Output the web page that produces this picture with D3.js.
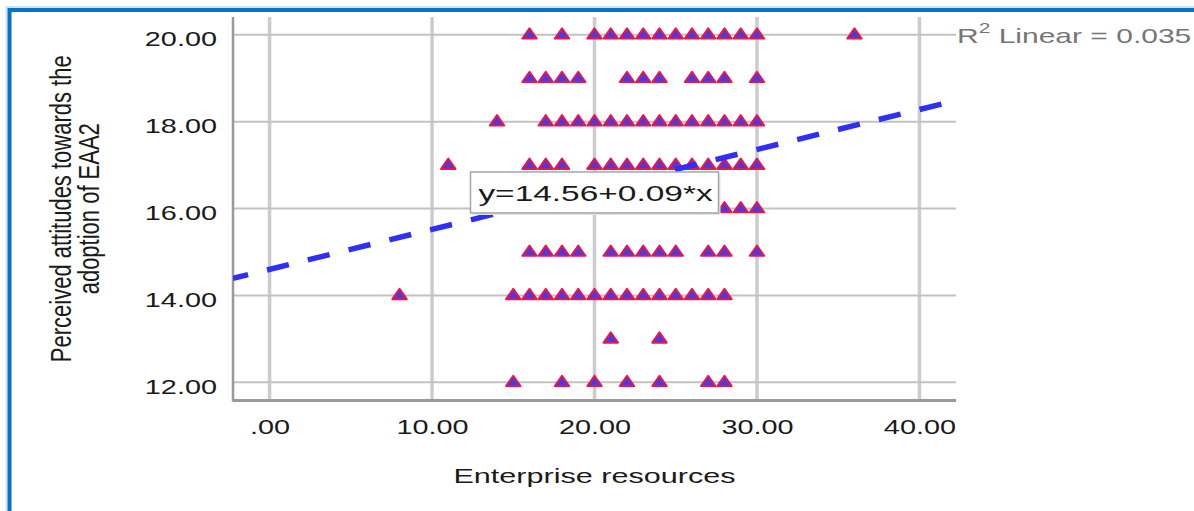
<!DOCTYPE html>
<html>
<head>
<meta charset="utf-8">
<script src="https://cdn.jsdelivr.net/npm/d3@7"></script>
<style>
  html, body { margin: 0; padding: 0; background: #ffffff; }
  svg { display: block; }
  text { font-family: "Liberation Sans", Arial, sans-serif; }
</style>
</head>
<body>
<svg id="chart" width="1194" height="511"></svg>
<script>
// ---- data ----
const yLevels = [20, 19, 18, 17, 16, 15, 14, 13, 12];
const xAtY20 = [16, 18, 20, 21, 22, 23, 24, 25, 26, 27, 28, 29, 30, 36];
const xAtY19 = [16, 17, 18, 19, 22, 23, 24, 26, 27, 28, 30];
const xAtY18 = [14, 17, 18, 19, 20, 21, 22, 23, 24, 25, 26, 27, 28, 29, 30];
const xAtY17 = [11, 16, 17, 18, 20, 21, 22, 23, 24, 25, 26, 27, 28, 29, 30];
const xAtY16 = [28, 29, 30];
const xAtY15 = [16, 17, 18, 19, 21, 22, 23, 24, 25, 27, 28, 30];
const xAtY14 = [8, 15, 16, 17, 18, 19, 20, 21, 22, 23, 24, 25, 26, 27, 28];
const xAtY13 = [21, 24];
const xAtY12 = [15, 18, 20, 22, 24, 27, 28];
const xValuesByLevel = [xAtY20, xAtY19, xAtY18, xAtY17, xAtY16, xAtY15, xAtY14, xAtY13, xAtY12];

const xTicks = [0, 10, 20, 30, 40];
const xTickLabels = [".00", "10.00", "20.00", "30.00", "40.00"];
const yTicks = [12, 14, 16, 18, 20];
const yTickLabels = ["12.00", "14.00", "16.00", "18.00", "20.00"];

const fitIntercept = 14.6;
const fitSlope = 0.092;
const equationText = "y=14.56+0.09*x";
const r2Value = "0.035";
const xTitle = "Enterprise resources";
const yTitleLines = ["Perceived attitudes towards the", "adoption of EAA2"];

// ---- layout ----
const svg = d3.select("#chart");
const plotL = 233, plotR = 956, plotT = 17, plotB = 400.5;
const x = d3.scaleLinear().domain([-2.25, 42.25]).range([plotL, plotR]);
const y = d3.scaleLinear().domain([11.58, 20.41]).range([plotB, plotT]);

const points = [];
yLevels.forEach((lv, i) => xValuesByLevel[i].forEach(v => points.push({ x: v, y: lv })));

// outer blue frame
svg.append("path").attr("d", "M6.5,520 V7 H1200").attr("fill", "none")
  .attr("stroke", "#cfe2f3").attr("stroke-width", 2);
svg.append("path").attr("d", "M9.5,520 V10 H1200").attr("fill", "none")
  .attr("stroke", "#0872c4").attr("stroke-width", 4);

// gridlines
svg.append("g").selectAll("line").data(xTicks).join("line")
  .attr("x1", d => x(d)).attr("x2", d => x(d))
  .attr("y1", plotT).attr("y2", plotB)
  .attr("stroke", "#cccccc").attr("stroke-width", 3.5);
svg.append("g").selectAll("line").data(yTicks).join("line")
  .attr("x1", plotL).attr("x2", plotR)
  .attr("y1", d => y(d)).attr("y2", d => y(d))
  .attr("stroke", "#c2c2c2").attr("stroke-width", 2);

// axis lines
svg.append("line").attr("x1", plotL).attr("x2", plotL).attr("y1", plotT).attr("y2", plotB + 1)
  .attr("stroke", "#999999").attr("stroke-width", 2.5);
svg.append("line").attr("x1", plotL).attr("x2", plotR).attr("y1", plotB).attr("y2", plotB)
  .attr("stroke", "#999999").attr("stroke-width", 3);

// axes (labels)
const xAxis = d3.axisBottom(x).tickValues(xTicks).tickSize(0)
  .tickFormat((d, i) => xTickLabels[i]);
const gx = svg.append("g").attr("transform", `translate(0,${plotB})`).call(xAxis);
gx.select(".domain").remove();
gx.selectAll("text").attr("y", 0).attr("dy", 0)
  .attr("transform", "translate(0,33) scale(1.48,1)")
  .attr("font-size", 19.5).attr("fill", "#1a1a1a")
  .attr("font-family", "'Liberation Sans', Arial, sans-serif");

const yAxis = d3.axisLeft(y).tickValues(yTicks).tickSize(0)
  .tickFormat((d, i) => yTickLabels[i]);
const gy = svg.append("g").attr("transform", `translate(${plotL},0)`).call(yAxis);
gy.select(".domain").remove();
gy.selectAll("text").attr("x", 0).attr("dy", 0).attr("text-anchor", "end")
  .attr("transform", "translate(-16,11) scale(1.48,1)")
  .attr("font-size", 19.5).attr("fill", "#1a1a1a")
  .attr("font-family", "'Liberation Sans', Arial, sans-serif");

// points
const tri = "M0,-6.5 L7.2,3.8 L-7.2,3.8 Z";
svg.append("g").selectAll("path").data(points).join("path")
  .attr("d", tri)
  .attr("transform", d => `translate(${x(d.x)},${y(d.y)})`)
  .attr("fill", "#4b3ae0").attr("stroke", "#e8164f").attr("stroke-width", 2)
  .attr("stroke-linejoin", "round");

// fit line
svg.append("clipPath").attr("id", "plotclip").append("rect")
  .attr("x", plotL).attr("y", plotT).attr("width", plotR - plotL).attr("height", plotB - plotT);
const xd = x.domain();
const fitData = [xd[0], xd[1]].map(v => ({ x: v, y: fitIntercept + fitSlope * v }));
svg.append("path").datum(fitData)
  .attr("clip-path", "url(#plotclip)")
  .attr("d", d3.line().x(d => x(d.x)).y(d => y(d.y)))
  .attr("fill", "none").attr("stroke", "#2f2ff5").attr("stroke-width", 5.5)
  .attr("stroke-dasharray", "22.5 19.5").attr("stroke-dashoffset", 7);

// equation box
const boxCx = x(20), boxCy = y(16.37), boxW = 248, boxH = 41;
svg.append("rect").attr("x", boxCx - boxW / 2 + 2).attr("y", boxCy - boxH / 2 + 2)
  .attr("width", boxW).attr("height", boxH).attr("fill", "#e4e4e4");
svg.append("rect").attr("x", boxCx - boxW / 2).attr("y", boxCy - boxH / 2)
  .attr("width", boxW).attr("height", boxH)
  .attr("fill", "#ffffff").attr("stroke", "#a6a6a6").attr("stroke-width", 1.5);
svg.append("g").attr("transform", `translate(${boxCx + 1},${boxCy + 8.5}) scale(1.52,1)`)
  .append("text").attr("text-anchor", "middle").attr("font-size", 22)
  .attr("fill", "#1a1a1a").text(equationText);

// R² label
const r2 = svg.append("g").attr("transform", `translate(${plotR + 1},${y(20) + 8}) scale(1.5,1)`)
  .append("text").attr("font-size", 20).attr("fill", "#767676");
r2.append("tspan").text("R");
r2.append("tspan").attr("font-size", 14).attr("dy", -10).text("2");
r2.append("tspan").attr("dy", 10).text(" Linear = " + r2Value);

// axis titles
svg.append("g").attr("transform", `translate(${(plotL + plotR) / 2},482.5) scale(1.53,1)`)
  .append("text").attr("text-anchor", "middle").attr("font-size", 20)
  .attr("fill", "#1a1a1a").text(xTitle);

const yMid = (plotT + plotB) / 2;
const yTitleX = [71, 99];
yTitleLines.forEach((t, i) => {
  svg.append("g").attr("transform", `translate(${yTitleX[i]},${yMid}) scale(1.3,1)`)
    .append("text").attr("transform", "rotate(-90)").attr("text-anchor", "middle")
    .attr("font-size", 22).attr("fill", "#1a1a1a").text(t);
});
</script>
</body>
</html>
